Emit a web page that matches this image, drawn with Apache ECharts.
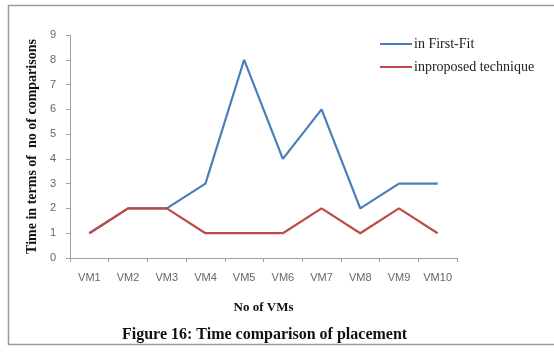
<!DOCTYPE html>
<html><head><meta charset="utf-8">
<script src="https://cdn.jsdelivr.net/npm/echarts@6/dist/echarts.min.js"></script>
<style>html,body{margin:0;padding:0;background:#fff}#c{width:554px;height:354px}</style>
</head><body><div id="c"></div>
<script>
var categories = ['VM1','VM2','VM3','VM4','VM5','VM6','VM7','VM8','VM9','VM10'];
var firstFit = [1,2,2,3,8,4,6,2,3,3];
var proposed = [1,2,2,1,1,1,2,1,2,1];
var seriesNames = ['in First-Fit','inproposed technique'];
var chart = echarts.init(document.getElementById('c'));
var serif = '"Liberation Serif", "DejaVu Serif", serif';
chart.setOption({
  animation:false,
  backgroundColor:'#fff',
  graphic:[{type:'rect',shape:{x:8.5,y:5.5,width:560,height:339},style:{fill:'none',stroke:'#9a9a9a',lineWidth:1.5}}],
  title:{text:'Figure 16: Time comparison of placement',left:117,top:322,textStyle:{fontFamily:serif,fontSize:16,fontWeight:'bold',color:'#111'}},
  legend:{orient:'vertical',left:375,top:32,itemWidth:32,itemHeight:2,itemGap:9,icon:'rect',
    textStyle:{fontFamily:serif,fontSize:14,color:'#222',padding:[0,0,0,-3]},data:seriesNames},
  grid:{left:70,right:97,top:35,bottom:96,containLabel:false},
  xAxis:{type:'category',data:categories,boundaryGap:true,
    name:'No of VMs',nameLocation:'middle',nameGap:43,
    nameTextStyle:{fontFamily:serif,fontSize:13,fontWeight:'bold',color:'#111'},
    axisLine:{lineStyle:{color:'#a0a0a0'}},
    axisTick:{show:true,length:4,lineStyle:{color:'#a0a0a0'}},
    axisLabel:{color:'#666',fontSize:11,fontFamily:'"Liberation Sans", sans-serif',margin:14}},
  yAxis:{type:'value',min:0,max:9,interval:1,
    name:'Time in terms of  no of comparisons',nameLocation:'middle',nameGap:30,
    nameTextStyle:{fontFamily:serif,fontSize:14,fontWeight:'bold',color:'#111'},
    axisLine:{show:true,lineStyle:{color:'#a0a0a0'}},
    axisTick:{show:true,length:4,lineStyle:{color:'#a0a0a0'}},
    splitLine:{show:false},
    axisLabel:{color:'#666',fontSize:11,fontFamily:'"Liberation Sans", sans-serif',margin:14}},
  series:[
    {name:seriesNames[0],type:'line',data:firstFit,symbol:'none',lineStyle:{width:2.2,color:'#4A7EBB'},itemStyle:{color:'#4A7EBB'}},
    {name:seriesNames[1],type:'line',data:proposed,symbol:'none',lineStyle:{width:2.2,color:'#BE4B48'},itemStyle:{color:'#BE4B48'}}
  ]
});
</script></body></html>
